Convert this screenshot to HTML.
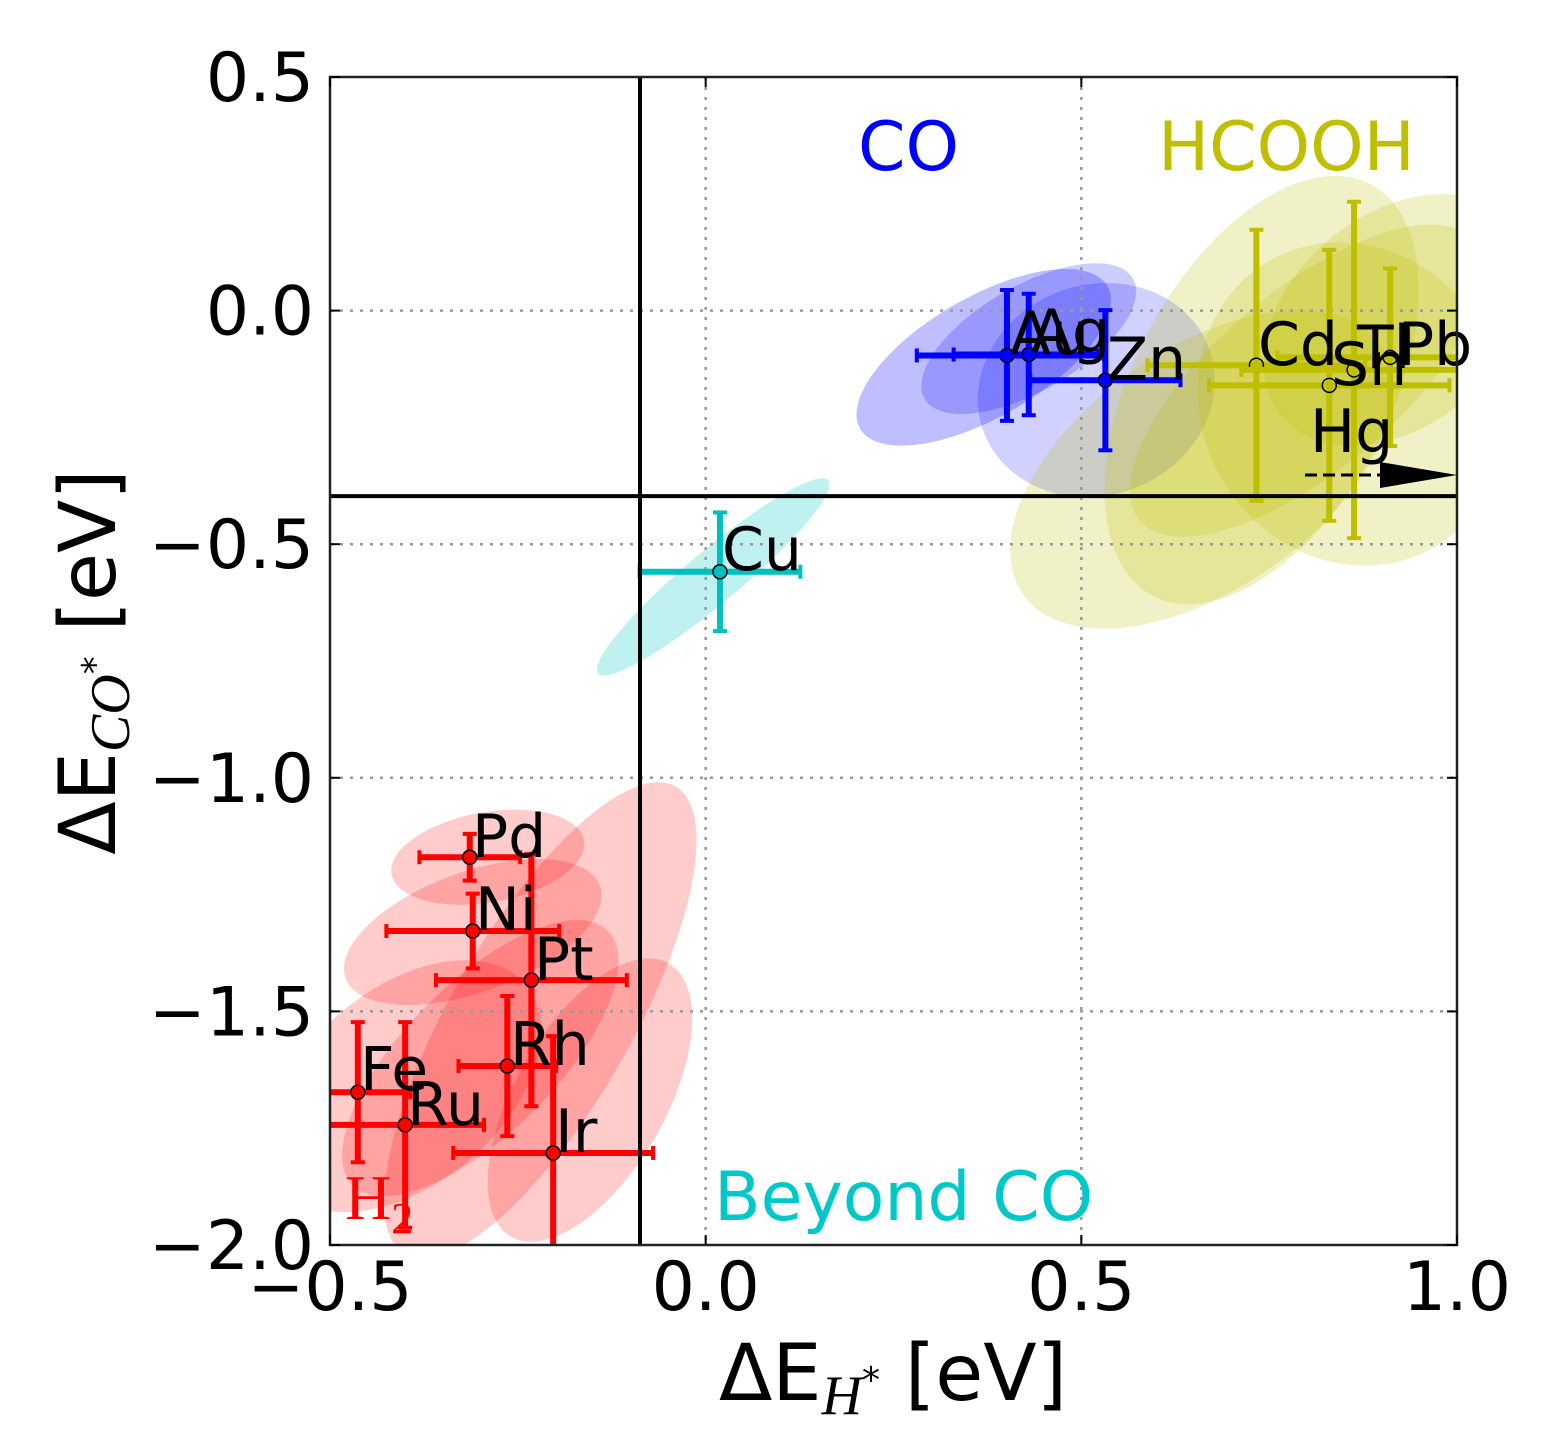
<!DOCTYPE html>
<html><head><meta charset="utf-8"><style>
html,body{margin:0;background:#fff;overflow:hidden;width:1551px;height:1437px}
svg{display:block;font-family:"DejaVu Sans","Liberation Sans",sans-serif}
</style></head><body>
<svg id="chart" width="1551" height="1437" viewBox="0 0 1551 1437">
<g id="ell"></g>
<g id="grid"></g>
<g id="marks"></g>
<g id="axes"></g>
</svg>
<script>
const xTicks=[-0.5,0.0,0.5,1.0];
const yTicks=[0.5,0.0,-0.5,-1.0,-1.5,-2.0];
const tickLabelsX=["\u22120.5","0.0","0.5","1.0"];
const tickLabelsY=["0.5","0.0","\u22120.5","\u22121.0","\u22121.5","\u22122.0"];
const names=["Pd","Ni","Pt","Rh","Fe","Ru","Ir","Cu","Au","Ag","Zn","Cd","Sn","Tl","Pb"];
const xVals=[-0.314,-0.310,-0.232,-0.264,-0.463,-0.400,-0.203,0.019,0.401,0.430,0.532,0.733,0.830,0.863,0.911];
const yVals=[-1.170,-1.328,-1.433,-1.617,-1.673,-1.743,-1.803,-0.559,-0.096,-0.094,-0.149,-0.117,-0.160,-0.127,-0.100];
const xErr=[0.067,0.115,0.127,0.065,0.07,0.105,0.133,0.107,0.12,0.10,0.10,0.145,0.16,0.15,0.15];
const yErr=[0.05,0.08,0.27,0.15,0.15,0.22,0.25,0.127,0.14,0.13,0.15,0.29,0.29,0.36,0.19];
const groups=["r","r","r","r","r","r","r","c","b","b","b","y","y","y","y"];
// ellipses: center (data), semi-axes (data-x units), angle (deg)
const ellCx=[-0.22,-0.29,-0.31,-0.154,-0.40,-0.30, 0.37,0.43,0.52, 0.74,0.66,0.80,0.92,0.86, 0.01];
const ellCy=[-1.52,-1.17,-1.33,-1.69,-1.66,-1.60, -0.10,-0.06,-0.17, -0.17,-0.34,-0.15,-0.02,-0.20, -0.57];
const ellA=[0.36,0.13,0.18,0.21,0.21,0.24, 0.19,0.16,0.16, 0.31,0.29,0.29,0.20,0.20, 0.20];
const ellB=[0.12,0.06,0.08,0.10,0.13,0.10, 0.08,0.07,0.14, 0.17,0.16,0.12,0.14,0.22, 0.035];
const ellAng=[-60,-10,-20,-60,-40,-45, -30,-30,-20, -62,-35,-40,-40,-30, -40];
const ellG=["r","r","r","r","r","r","b","b2","b3","y","y","y","y","y","c"];
const L=330,R=1457,T=77,B=1245;
const sx=v=>L+(v+0.5)*(R-L)/1.5;
const sy=v=>T+(0.5-v)*(B-T)/2.5;
const NS="http://www.w3.org/2000/svg";
function mk(tag,attrs,parent,txt){const e=document.createElementNS(NS,tag);for(const k in attrs)e.setAttribute(k,attrs[k]);if(txt!==undefined)e.textContent=txt;parent.appendChild(e);return e;}
const fill={r:"rgba(255,0,0,0.2)",b:"rgba(0,0,255,0.25)",b2:"rgba(0,0,255,0.2)",b3:"rgba(0,0,255,0.18)",y:"rgba(191,191,0,0.22)",c:"rgba(0,200,200,0.25)"};
const col={r:"#ff0000",b:"#0000ff",y:"#bfbf00",c:"#00bfbf"};
const kx=(R-L)/1.5;
const gE=document.getElementById('ell');
const clip=mk('clipPath',{id:'pc'},document.getElementById('chart'));
mk('rect',{x:L,y:T,width:R-L,height:B-T},clip);
gE.setAttribute('clip-path','url(#pc)');
for(let i=0;i<ellCx.length;i++){
 const e=mk('ellipse',{cx:0,cy:0,rx:ellA[i]*kx,ry:ellB[i]*kx,fill:fill[ellG[i]],transform:`translate(${sx(ellCx[i])},${sy(ellCy[i])}) rotate(${ellAng[i]})`},gE);
 
 
}
const gG=document.getElementById('grid');
[0,0.5].forEach(v=>mk('line',{x1:sx(v),x2:sx(v),y1:T,y2:B,stroke:"#999",'stroke-width':2.5,'stroke-dasharray':"3,7"},gG));
[0,-0.5,-1,-1.5].forEach(v=>mk('line',{x1:L,x2:R,y1:sy(v),y2:sy(v),stroke:"#999",'stroke-width':2.5,'stroke-dasharray':"3,7"},gG));
const gM=document.getElementById('marks');
gM.setAttribute('clip-path','url(#pc)');
for(let i=0;i<names.length;i++){
 const c=col[groups[i]],x=sx(xVals[i]),y=sy(yVals[i]);
 const g=mk('g',{},gM);
 
 
 const x1=sx(xVals[i]-xErr[i]),x2=sx(xVals[i]+xErr[i]),y1=sy(yVals[i]+yErr[i]),y2=sy(yVals[i]-yErr[i]);
 mk('line',{x1,x2,y1:y,y2:y,stroke:c,'stroke-width':6},g);
 mk('line',{x1:x,x2:x,y1,y2,stroke:c,'stroke-width':6},g);
 [x1,x2].forEach(xx=>mk('line',{x1:xx,x2:xx,y1:y-7,y2:y+7,stroke:c,'stroke-width':4},g));
 [y1,y2].forEach(yy=>mk('line',{x1:x-7,x2:x+7,y1:yy,y2:yy,stroke:c,'stroke-width':4},g));
 const hollow=groups[i]==="y";
 mk('circle',{cx:x,cy:y,r:7,fill:hollow?"none":c,stroke:"#000",'stroke-width':1.5},g);
}
const gA=document.getElementById('axes');
const labs=[["Pd",472,857],["Ni",475,930],["Pt",534,980],["Rh",510,1065],["Fe",360,1090],["Ru",407,1125],["Ir",555,1152],["Cu",722,570],["Au",1010,354],["Ag",1031,352],["Zn",1107,380],["Cd",1258,365],["Sn",1331,385],["Tl",1357,368],["Pb",1398,365],["Hg",1310,452]];
labs.forEach(l=>{const t=mk('text',{x:l[1],y:l[2],'font-size':60,fill:"#000"},gA,l[0]);});
mk('line',{x1:1305,x2:1390,y1:475,y2:475,stroke:"#000",'stroke-width':3,'stroke-dasharray':"12,6"},gA);
mk('polygon',{points:"1380,462 1457,475 1380,488",fill:"#000"},gA);
mk('line',{x1:sx(-0.0874),x2:sx(-0.0874),y1:T,y2:B,stroke:"#000",'stroke-width':4},gA);
mk('line',{x1:L,x2:R,y1:sy(-0.397),y2:sy(-0.397),stroke:"#000",'stroke-width':4},gA);
mk('text',{x:858,y:170,'font-size':68,fill:"#0000ff"},gA,"CO");
mk('text',{x:1158,y:170,'font-size':68,fill:"#bfbf00"},gA,"HCOOH");
mk('text',{x:714,y:1220,'font-size':68,fill:"#00c8c8"},gA,"Beyond CO");
const h2=mk('text',{x:345,y:1219,'font-size':64,fill:"#ff0000",'font-family':"Liberation Serif, serif"},gA,"H");
mk('tspan',{dy:14,'font-size':44},h2,"2");
mk('rect',{x:L,y:T,width:R-L,height:B-T,fill:"none",stroke:"#222",'stroke-width':2.5},gA);
xTicks.forEach((v,i)=>{
 mk('line',{x1:sx(v),x2:sx(v),y1:B,y2:B-10,stroke:"#000",'stroke-width':2},gA);
 mk('line',{x1:sx(v),x2:sx(v),y1:T,y2:T+10,stroke:"#000",'stroke-width':2},gA);
 const t=mk('text',{x:sx(v),y:1310,'font-size':68,'text-anchor':"middle",fill:"#000"},gA,tickLabelsX[i]);
 
 
});
yTicks.forEach((v,i)=>{
 mk('line',{x1:L,x2:L+10,y1:sy(v),y2:sy(v),stroke:"#000",'stroke-width':2},gA);
 mk('line',{x1:R,x2:R-10,y1:sy(v),y2:sy(v),stroke:"#000",'stroke-width':2},gA);
 const t=mk('text',{x:314,y:sy(v)+24,'font-size':68,'text-anchor':"end",fill:"#000"},gA,tickLabelsY[i]);
 
 
});
const xl=mk('text',{x:893,y:1400,'font-size':78,'text-anchor':"middle",fill:"#000"},gA);


xl.innerHTML='ΔE<tspan dy="14" font-style="italic" font-family="Liberation Serif, serif" font-size="56">H</tspan><tspan dy="-22" font-size="36">*</tspan><tspan dy="8"> [eV]</tspan>';
const yl=mk('text',{x:0,y:0,'font-size':78,'text-anchor':"middle",fill:"#000",transform:"translate(115,662) rotate(-90)"},gA);


yl.innerHTML='ΔE<tspan dy="14" font-style="italic" font-family="Liberation Serif, serif" font-size="56">CO</tspan><tspan dy="-22" font-size="36">*</tspan><tspan dy="8"> [eV]</tspan>';
</script>
</body></html>
